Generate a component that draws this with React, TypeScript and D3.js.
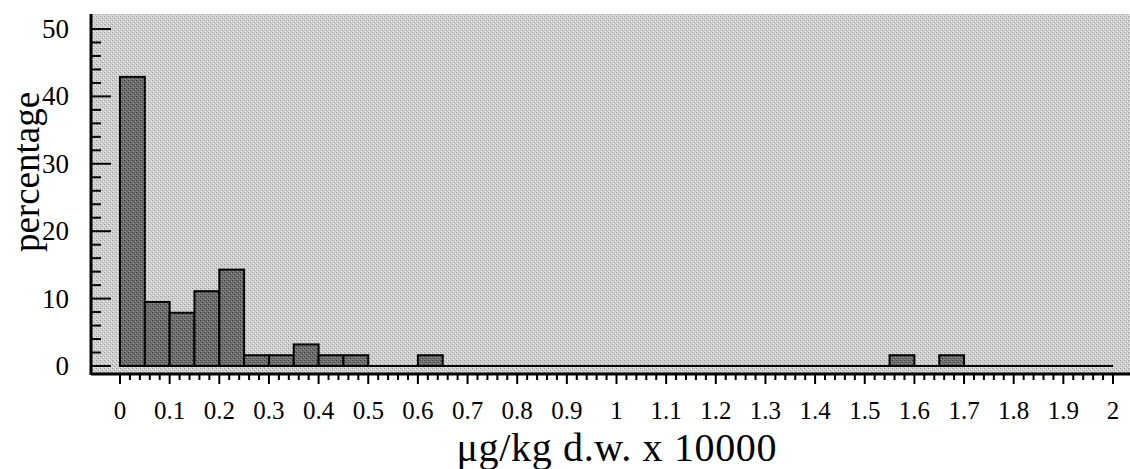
import React from "react";
import * as d3 from "d3";

// histogram bins (start of bin, width 0.05) and percentages
const binStarts = [0, 0.05, 0.1, 0.15, 0.2, 0.25, 0.3, 0.35, 0.4, 0.45, 0.6, 1.55, 1.65];
const percents = [42.9, 9.5, 7.9, 11.1, 14.3, 1.6, 1.6, 3.2, 1.6, 1.6, 1.6, 1.6, 1.6];
const binWidth = 0.05;

const xMajor = d3.range(0, 21).map((i) => i / 10);
const xMinor = d3.range(0, 101).map((i) => i / 50);
const yMajor = [0, 10, 20, 30, 40, 50];
const yMinor = d3.range(0, 26).map((i) => i * 2);

const W = 1130;
const H = 469;

export default function App() {
  const x = d3.scaleLinear().domain([0, 2]).range([120, 1113]);
  const y = d3.scaleLinear().domain([0, 50]).range([366, 29]);

  const axisX = 91;
  const axisY = 374;
  const fmt = (v: number) => d3.format("~g")(+v.toFixed(2));
  const serif = "'Liberation Serif', 'Times New Roman', serif";

  return (
    <svg
      width={W}
      height={H}
      style={{ position: "absolute", left: 0, top: 0, background: "#fff" }}
    >
      <defs>
        <pattern id="bgdots" width="4" height="4" patternUnits="userSpaceOnUse">
          <rect width="4" height="4" fill="#cdcdcd" />
          <rect x="0" y="0" width="1" height="1" fill="#9a9a9a" />
          <rect x="2" y="2" width="1" height="1" fill="#a5a5a5" />
          <rect x="1" y="3" width="1" height="1" fill="#eeeeee" />
          <rect x="3" y="1" width="1" height="1" fill="#eeeeee" />
        </pattern>
        <pattern id="bardots" width="4" height="4" patternUnits="userSpaceOnUse">
          <rect width="4" height="4" fill="#6c6c6c" />
          <rect x="0" y="0" width="1" height="1" fill="#3a3a3a" />
          <rect x="2" y="2" width="1" height="1" fill="#404040" />
          <rect x="1" y="3" width="1" height="1" fill="#9a9a9a" />
          <rect x="3" y="1" width="1" height="1" fill="#959595" />
        </pattern>
      </defs>

      {/* plot background */}
      <rect x={axisX} y={14} width={W - axisX} height={axisY - 14} fill="url(#bgdots)" />

      {/* baseline at zero */}
      <line x1={x(0)} x2={x(2)} y1={y(0)} y2={y(0)} stroke="#000" strokeWidth={2} />

      {/* bars */}
      {binStarts.map((b, i) => (
        <rect
          key={i}
          x={x(b)}
          y={y(percents[i])}
          width={x(b + binWidth) - x(b)}
          height={y(0) - y(percents[i])}
          fill="url(#bardots)"
          stroke="#000"
          strokeWidth={2}
        />
      ))}

      {/* y axis */}
      <line x1={axisX} x2={axisX} y1={14} y2={axisY + 1} stroke="#000" strokeWidth={3} />
      {yMinor.map((v) => (
        <line
          key={"ym" + v}
          x1={axisX}
          x2={v % 10 === 0 ? axisX + 20 : axisX + 10}
          y1={y(v)}
          y2={y(v)}
          stroke="#000"
          strokeWidth={2}
        />
      ))}
      {yMajor.map((v) => (
        <text
          key={"yl" + v}
          x={69}
          y={y(v)}
          textAnchor="end"
          dominantBaseline="central"
          fontFamily={serif}
          fontSize={27}
        >
          {v}
        </text>
      ))}

      {/* x axis */}
      <line x1={axisX} x2={W} y1={axisY} y2={axisY} stroke="#000" strokeWidth={3} />
      {xMinor.map((v, i) => (
        <line
          key={"xm" + i}
          x1={x(v)}
          x2={x(v)}
          y1={axisY}
          y2={i % 5 === 0 ? axisY + 10 : axisY + 6}
          stroke="#000"
          strokeWidth={2}
        />
      ))}
      {xMajor.map((v, i) => (
        <text
          key={"xl" + i}
          x={x(v)}
          y={419}
          textAnchor="middle"
          fontFamily={serif}
          fontSize={25}
        >
          {fmt(v)}
        </text>
      ))}

      {/* axis titles */}
      <text
        x={(x(0) + x(2)) / 2}
        y={461}
        textAnchor="middle"
        fontFamily={serif}
        fontSize={40}
        textLength={320}
        lengthAdjust="spacing"
      >
        μg/kg d.w. x 10000
      </text>
      <text
        transform={`translate(39, 172) rotate(-90)`}
        textAnchor="middle"
        fontFamily={serif}
        fontSize={37}
      >
        percentage
      </text>
    </svg>
  );
}
